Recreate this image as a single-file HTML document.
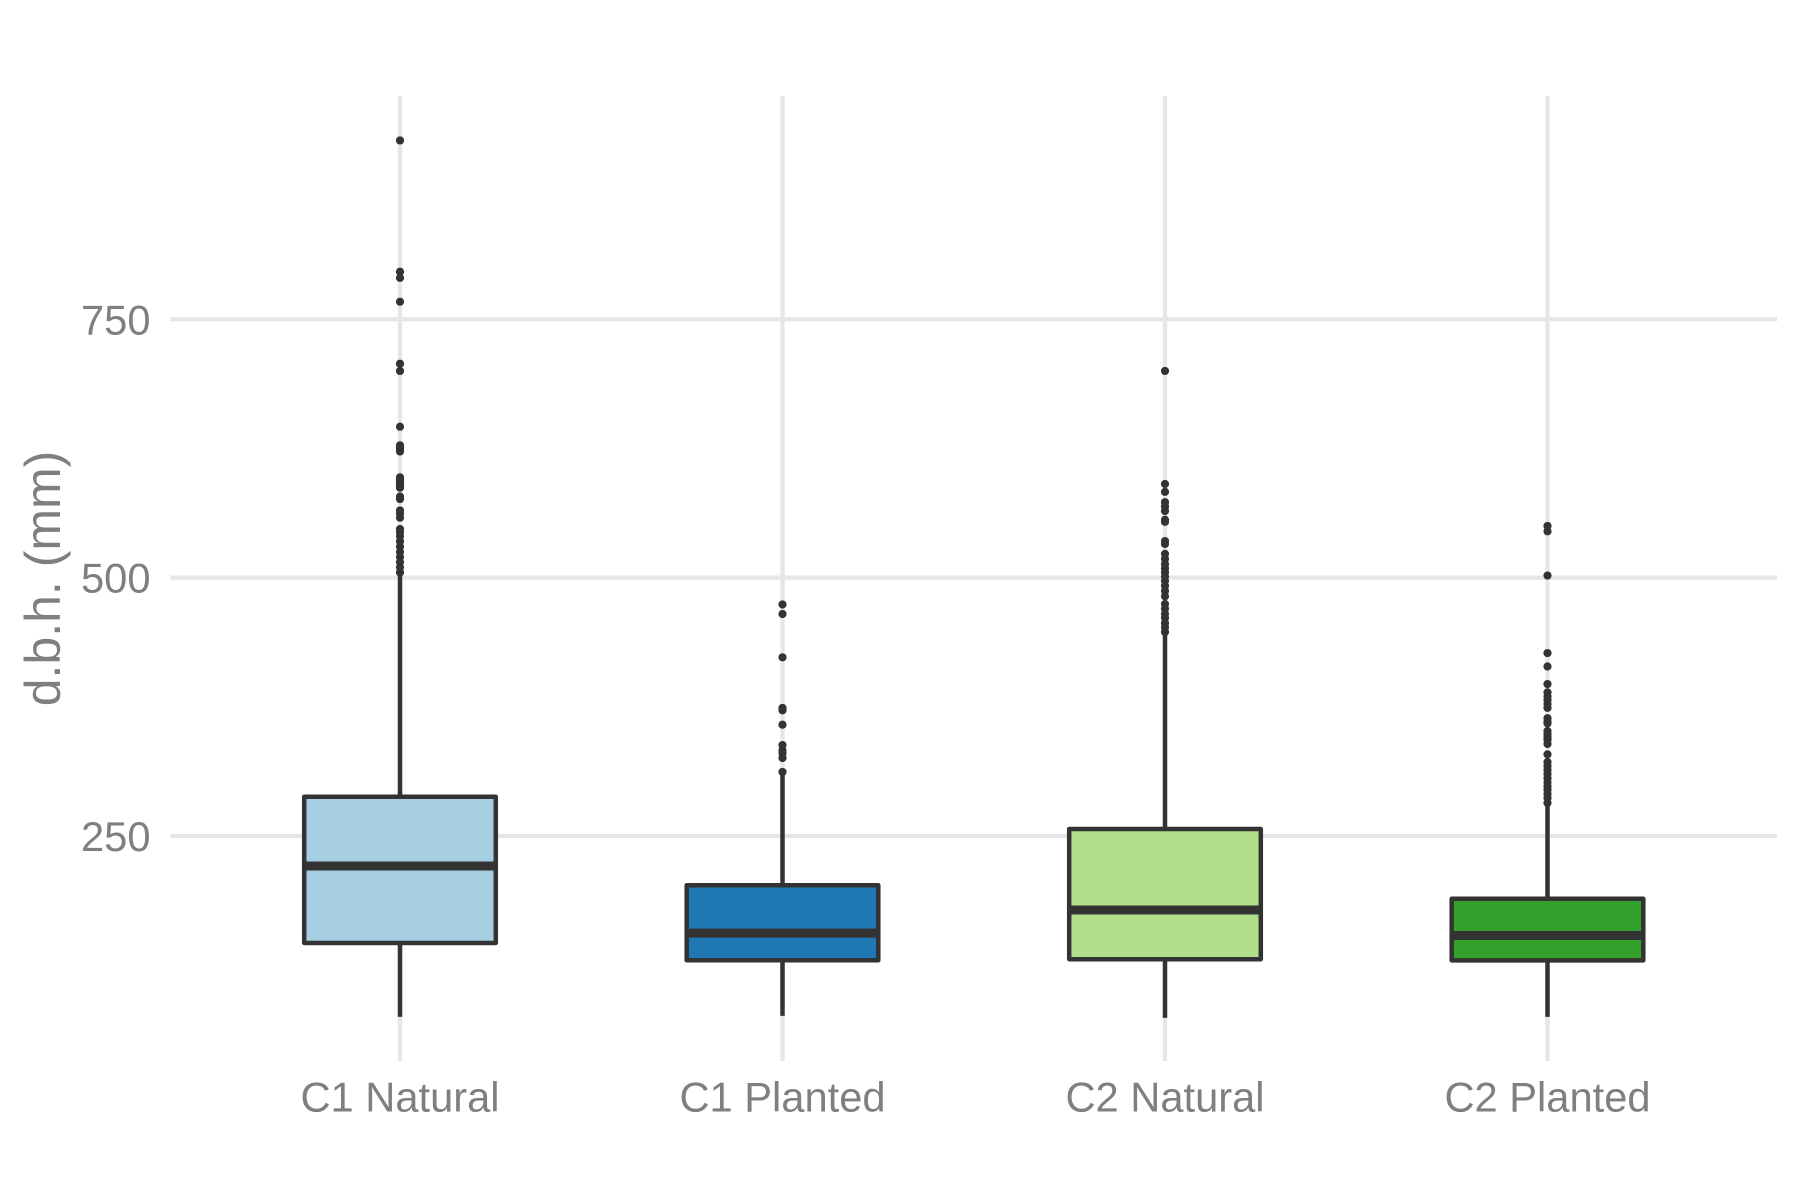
<!DOCTYPE html>
<html lang="en">
<head>
<meta charset="utf-8">
<title>d.b.h. boxplot</title>
<style>
  html, body { margin: 0; padding: 0; background: #ffffff; }
  svg { display: block; }
  text { font-family: "Liberation Sans", Arial, sans-serif; fill: #7f7f7f; }
</style>
</head>
<body>
<svg id="chart" xmlns="http://www.w3.org/2000/svg" width="1800" height="1200" viewBox="0 0 1800 1200">
  <rect x="0" y="0" width="1800" height="1200" fill="#ffffff"></rect>
  <g id="grid"></g>
  <g id="marks"></g>
  <g id="axes"></g>
  <text transform="translate(60,578.5) rotate(-90)" text-anchor="middle" font-size="50">d.b.h. (mm)</text>
</svg>
<script>
const categories = ["C1 Natural", "C1 Planted", "C2 Natural", "C2 Planted"];
const fills = ["#A6CEE3", "#1F78B4", "#B2DF8A", "#33A02C"];
const q1Values = [146.5, 129.8, 130.8, 129.7];
const medianValues = [221, 156, 178.4, 153.7];
const q3Values = [288, 202.3, 256.8, 189.3];
const whiskerLow = [75, 76, 74, 75];
const whiskerHigh = [503, 312, 447, 282];
const outliersC1Natural = [923, 796, 790, 767, 707, 700, 646, 628, 626, 624, 622, 597, 595, 593, 591, 589, 587, 578.5, 576, 565, 562, 558, 547, 544, 540, 535, 530, 525, 520, 515, 510, 505];
const outliersC1Planted = [474, 464.8, 422.9, 373.9, 371.6, 357.7, 338, 333, 330, 325.5, 312];
const outliersC2Natural = [700, 590.6, 583, 573, 569, 564.5, 556, 554, 535.4, 532.5, 523, 518, 513, 509, 505, 501, 497, 492, 487, 482, 474.5, 470, 465, 461, 456, 452, 447.4];
const outliersC2Planted = [550, 544.8, 502, 427, 414, 397, 389, 385, 381.6, 377.7, 374, 364, 361, 359, 351.6, 348.7, 345.8, 343, 339, 329, 321.6, 317.7, 314, 310, 306, 302, 298, 294.5, 290.6, 287, 282];
const outliers = [outliersC1Natural, outliersC1Planted, outliersC2Natural, outliersC2Planted];
const yTicks = [250, 500, 750];

const SVG_NS = "http://www.w3.org/2000/svg";
const panel = { left: 170.5, right: 1777, top: 96, bottom: 1061 };
const inkColor = "#333333";
const gridColor = "#e6e6e6";
const boxHalfWidth = 95.8;
const lineWidth = 4.5;

function xScale(i) { return 400 + 382.5 * i; }
function yScale(v) { return 836 - (v - 250) * 1.0335; }

function make(tag, attrs, parent) {
  const el = document.createElementNS(SVG_NS, tag);
  for (const k in attrs) el.setAttribute(k, attrs[k]);
  parent.appendChild(el);
  return el;
}

const grid = document.getElementById("grid");
const marks = document.getElementById("marks");
const axes = document.getElementById("axes");

yTicks.forEach(function (tick) {
  const y = yScale(tick);
  const line = make("line", { x1: panel.left, x2: panel.right, y1: y, y2: y, stroke: gridColor, "stroke-width": 4.3 }, grid);
  
  
  const label = make("text", { x: 150.5, y: y + 15, "text-anchor": "end", "font-size": 41.67 }, axes);
  label.textContent = String(tick);
  
  
});

categories.forEach(function (cat, i) {
  const x = xScale(i);

  const vline = make("line", { x1: x, x2: x, y1: panel.top, y2: panel.bottom, stroke: gridColor, "stroke-width": 4.3 }, grid);
  
  

  const label = make("text", { x: x, y: 1111.5, "text-anchor": "middle", "font-size": 41.67 }, axes);
  label.textContent = cat;
  
  

  const upper = make("line", { x1: x, x2: x, y1: yScale(q3Values[i]), y2: yScale(whiskerHigh[i]), stroke: inkColor, "stroke-width": lineWidth }, marks);
  
  

  const lower = make("line", { x1: x, x2: x, y1: yScale(q1Values[i]), y2: yScale(whiskerLow[i]), stroke: inkColor, "stroke-width": lineWidth }, marks);
  
  

  const box = make("rect", {
    x: x - boxHalfWidth,
    y: yScale(q3Values[i]),
    width: boxHalfWidth * 2,
    height: yScale(q1Values[i]) - yScale(q3Values[i]),
    fill: fills[i],
    stroke: inkColor,
    "stroke-width": lineWidth,
    "stroke-linejoin": "round"
  }, marks);
  
  

  const median = make("line", { x1: x - boxHalfWidth, x2: x + boxHalfWidth, y1: yScale(medianValues[i]), y2: yScale(medianValues[i]), stroke: inkColor, "stroke-width": 9 }, marks);
  
  

  outliers[i].forEach(function (v) {
    const dot = make("circle", { cx: x, cy: yScale(v), r: 4.1, fill: inkColor }, marks);
    
    
  });
});
</script>
</body>
</html>
